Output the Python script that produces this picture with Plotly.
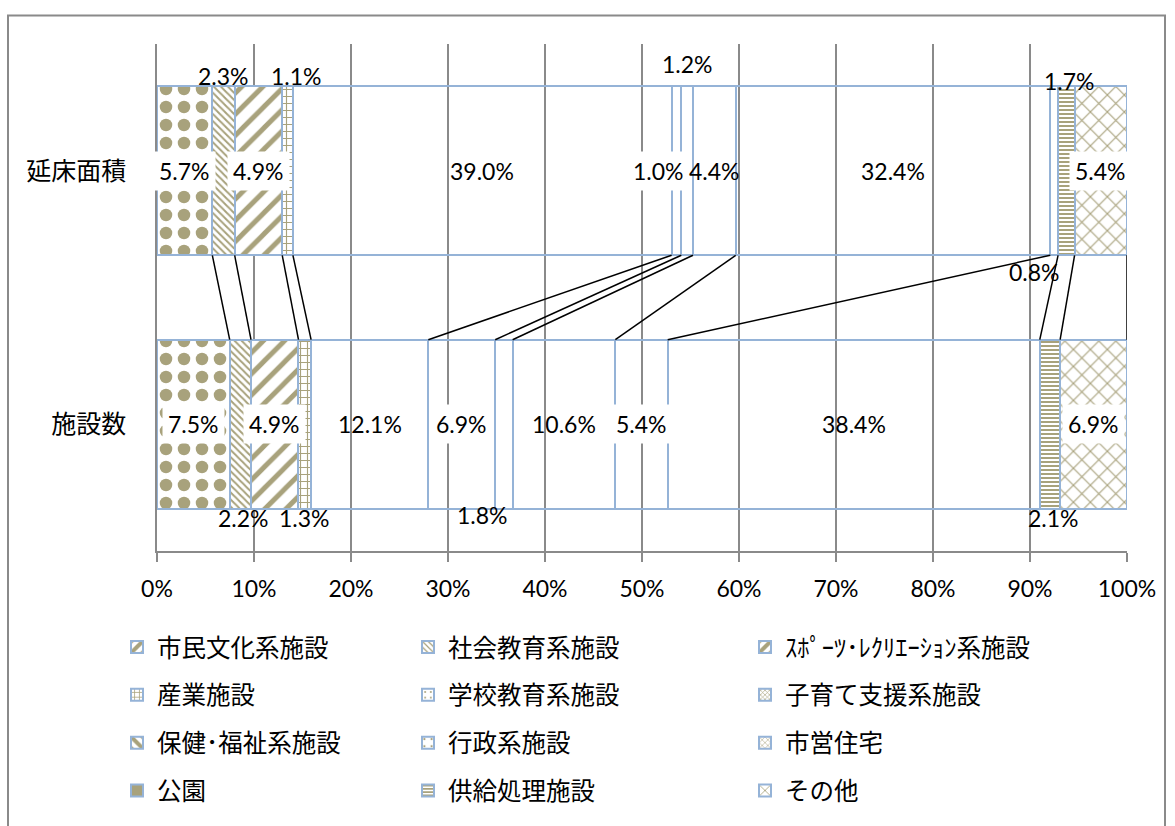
import numpy as np
import plotly.graph_objects as go

# ---------------- data ----------------
categories = ["市民文化系施設", "社会教育系施設", "ｽﾎﾟｰﾂ･ﾚｸﾘｴｰｼｮﾝ系施設",
              "産業施設", "学校教育系施設", "子育て支援系施設",
              "保健･福祉系施設", "行政系施設", "市営住宅",
              "公園", "供給処理施設", "その他"]
floor_area = [5.7, 2.3, 4.9, 1.1, 39.0, 1.0, 1.2, 4.4, 32.4, 0.8, 1.7, 5.4]
facilities = [7.5, 2.2, 4.9, 1.3, 12.1, 6.9, 1.8, 10.6, 5.4, 38.4, 2.1, 6.9]
bar_names = ["延床面積", "施設数"]
x_ticks = [0, 10, 20, 30, 40, 50, 60, 70, 80, 90, 100]
x_tick_labels = [f"{t}%" for t in x_ticks]

# ---------------- style ----------------
KHAKI = "#a8a27c"
EDGE = "#95b3d7"
GRID = "#8a8a8a"
NUM_FONT = "Lato"
JP_FONT = "Noto Sans CJK JP"
BAR_W = 0.667
Y_TOP, Y_BOT = 1, 0

patterns = [
    dict(shape=".", size=18, solidity=0.38),
    dict(shape="\\", size=5, solidity=0.4),
    dict(shape="/", size=15, solidity=0.33),
    dict(shape="+", size=7, solidity=0.3),
    None, None, None, None, None, None,
    dict(shape="-", size=4, solidity=0.5),
    dict(shape="x", size=12, solidity=0.18),
]
# legend swatch look (as in the original legend)
legend_patterns = [
    dict(shape="/", size=14, solidity=0.5),
    dict(shape="\\", size=5, solidity=0.3),
    dict(shape="/", size=14, solidity=0.5),
    dict(shape="+", size=6, solidity=0.3),
    dict(shape=".", size=7, solidity=0.1),
    dict(shape="x", size=4, solidity=0.35),
    dict(shape="\\", size=14, solidity=0.5),
    dict(shape=".", size=9, solidity=0.08),
    dict(shape="x", size=5, solidity=0.25),
    "solid",
    dict(shape="-", size=4, solidity=0.5),
    dict(shape="x", size=10, solidity=0.2),
]

# label placement per series: (mode, xshift, yshift, white box)
lab_top = [("c", 0, 0, True), ("a", 0, 10, False), ("c", 0, 0, True), ("a", 9, 10, False),
           ("c", 0, 0, False), ("c", -18, 0, True), ("a", 0, 22, False), ("c", 0, 0, False),
           ("c", 0, 0, True), ("b", -20, -17, False), ("a", 3, 5, False), ("c", 0, 0, True)]
lab_bot = [("c", 0, 0, True), ("b", 3, -9, False), ("c", 0, 0, True), ("b", 0, -9, False),
           ("c", 0, 0, False), ("c", 0, 0, True), ("b", -21, -6, False), ("c", 0, 0, False),
           ("c", 0, 0, True), ("c", 0, 0, False), ("b", 4, -9, False), ("c", 0, 0, True)]

legend_ids = ["legend", "legend2", "legend3"]

fig = go.Figure()

for i, name in enumerate(categories):
    pat = patterns[i]
    if pat is None:
        marker = dict(color="rgba(0,0,0,0)", line=dict(color=EDGE, width=2))
    else:
        marker = dict(color="white", line=dict(color=EDGE, width=2),
                      pattern=dict(fgcolor=KHAKI, bgcolor="white", fillmode="replace", **pat))
    fig.add_trace(go.Bar(
        x=[floor_area[i], facilities[i]], y=[Y_TOP, Y_BOT], orientation="h",
        name=name, marker=marker, width=BAR_W, showlegend=False,
        legendgroup=name, hoverinfo="skip",
    ))

# legend-only entries (swatches styled like the original legend)
for i, name in enumerate(categories):
    lp = legend_patterns[i]
    if lp == "solid":
        lmarker = dict(color=KHAKI, line=dict(color=EDGE, width=2))
    else:
        lmarker = dict(color="white", line=dict(color=EDGE, width=2),
                       pattern=dict(fgcolor=KHAKI, bgcolor="white", fillmode="replace", **lp))
    fig.add_trace(go.Bar(
        x=[None], y=[None], orientation="h", name=name, marker=lmarker,
        legend=legend_ids[i % 3], legendgroup=name, showlegend=True, hoverinfo="skip",
    ))

# connector (series) lines between the two bars
fa = np.array(floor_area)
fc = np.array(facilities)
cum_top = np.cumsum(fa) / fa.sum() * 100
cum_bot = np.cumsum(fc) / fc.sum() * 100
start_top = np.concatenate([[0], cum_top[:-1]])
start_bot = np.concatenate([[0], cum_bot[:-1]])
lx, ly = [], []
for a, b in zip(cum_top, cum_bot):
    lx += [a, b, None]
    ly += [Y_TOP - BAR_W / 2, Y_BOT + BAR_W / 2, None]
fig.add_trace(go.Scatter(x=lx, y=ly, mode="lines", line=dict(color="black", width=1.5),
                         showlegend=False, hoverinfo="skip", cliponaxis=False))

# data labels
annotations = []
for vals, starts, cums, ybar, spec in [(fa, start_top, cum_top, Y_TOP, lab_top),
                                       (fc, start_bot, cum_bot, Y_BOT, lab_bot)]:
    for i, v in enumerate(vals):
        mode, dx, dy, box = spec[i]
        xc = (starts[i] + cums[i]) / 2
        if mode == "c":
            yy = ybar
        elif mode == "a":
            yy = ybar + BAR_W / 2
        else:
            yy = ybar - BAR_W / 2
        annotations.append(dict(
            x=xc, y=yy, xref="x", yref="y", text=f"{v:.1f}%", showarrow=False,
            xshift=dx, yshift=dy, xanchor="center", yanchor="middle",
            font=dict(family=NUM_FONT, size=23, color="black"),
            bgcolor="white" if box else "rgba(0,0,0,0)", borderpad=5,
        ))

# outer chart frame
shapes = [dict(type="rect", xref="paper", yref="paper",
               x0=(8 - 157) / 970, x1=(1165 - 157) / 970,
               y0=-0.7, y1=(561 - 15) / 517,
               line=dict(color=GRID, width=2), layer="below")]

legend_common = dict(orientation="v", traceorder="grouped", tracegroupgap=13,
                     font=dict(family=JP_FONT, size=24.5, color="black"),
                     bgcolor="rgba(0,0,0,0)", borderwidth=0,
                     xanchor="left", yanchor="top", y=-0.145, itemclick=False,
                     itemdoubleclick=False)

fig.update_layout(
    width=1175, height=826,
    margin=dict(l=157, r=48, t=44, b=265),
    paper_bgcolor="white", plot_bgcolor="white",
    barmode="stack", barnorm="percent",
    showlegend=True,
    legend=dict(x=(117 - 157) / 970, **legend_common),
    legend2=dict(x=(408 - 157) / 970, **legend_common),
    legend3=dict(x=(745 - 157) / 970, **legend_common),
    xaxis=dict(range=[0, 100], tickvals=x_ticks, ticktext=x_tick_labels,
               showgrid=True, gridcolor=GRID, gridwidth=1.5,
               showline=True, linecolor=GRID, linewidth=1.5,
               ticks="outside", ticklen=9, tickcolor=GRID, tickwidth=1.5,
               zeroline=False, ticklabelstandoff=8,
               tickfont=dict(family=NUM_FONT, size=23, color="black")),
    yaxis=dict(range=[-0.5, 1.5], tickvals=[Y_TOP, Y_BOT], ticktext=bar_names,
               showgrid=False, zeroline=False, showline=True, linecolor=GRID, linewidth=1.5,
               ticks="", ticklabelstandoff=24,
               tickfont=dict(family=JP_FONT, size=25, color="black")),
    annotations=annotations, shapes=shapes,
    font=dict(family=NUM_FONT),
)

fig.write_html("out.html", config={"displayModeBar": False},
               post_script="document.body.style.margin='0';")
